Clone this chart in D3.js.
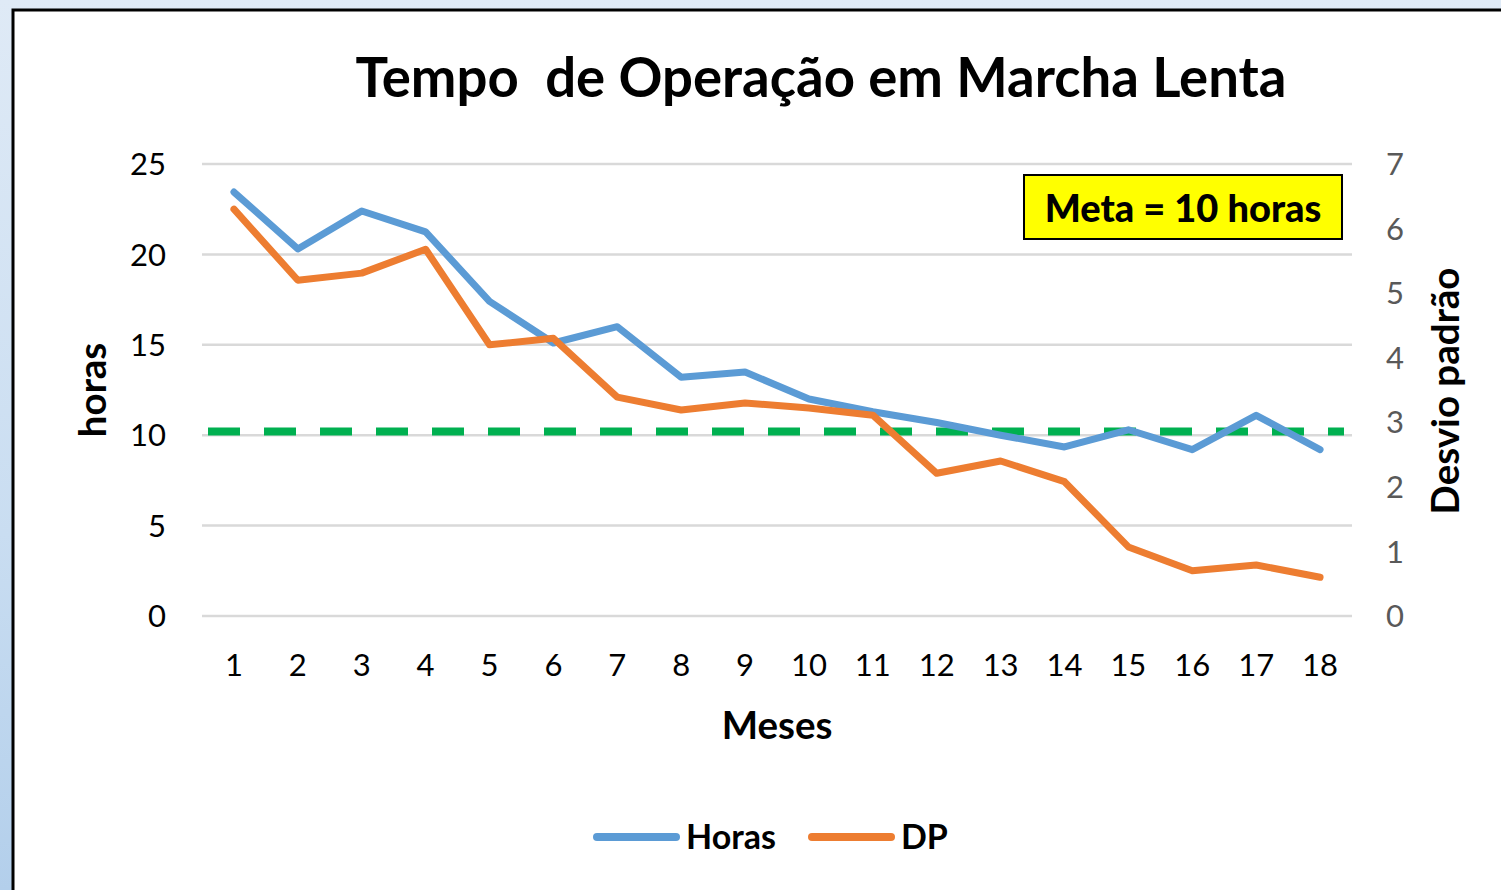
<!DOCTYPE html>
<html>
<head>
<meta charset="utf-8">
<script src="https://cdn.jsdelivr.net/npm/d3@7"></script>
<style>
  html, body { margin: 0; padding: 0; }
  body { width: 1501px; height: 890px; overflow: hidden;
         background: linear-gradient(to bottom, #dfeaf6 0%, #c9ddf1 60%, #b3cfeb 100%); }
  text { font-family: Lato, "Open Sans", sans-serif; }
</style>
</head>
<body>
<script>
// values
var meses = ["1","2","3","4","5","6","7","8","9","10","11","12","13","14","15","16","17","18"];
var horas = [23.45, 20.3, 22.4, 21.25, 17.4, 15.1, 16.0, 13.2, 13.5, 12.0, 11.3, 10.7, 10.0, 9.35, 10.3, 9.2, 11.1, 9.2];
var dp    = [6.30, 5.20, 5.31, 5.68, 4.20, 4.30, 3.39, 3.19, 3.30, 3.22, 3.11, 2.21, 2.40, 2.08, 1.07, 0.70, 0.79, 0.60];
var ticksHoras = [0, 5, 10, 15, 20, 25];
var ticksDP = [0, 1, 2, 3, 4, 5, 6, 7];
var meta = 10.2;

var W = 1501, H = 890;
var pLeft = 202, pRight = 1352, pTop = 164, pBottom = 616;

var svg = d3.select("body").append("svg")
    .attr("width", W).attr("height", H)
    .style("display", "block");

// chart area (white with black frame)
svg.append("rect")
    .attr("x", 13).attr("y", 10)
    .attr("width", W + 10).attr("height", H + 10)
    .attr("fill", "#fff")
    .attr("stroke", "#000").attr("stroke-width", 3);

var x = d3.scalePoint().domain(meses).range([pLeft, pRight]).padding(0.5);
var yL = d3.scaleLinear().domain([0, 25]).range([pBottom, pTop]);
var yR = d3.scaleLinear().domain([0, 7]).range([pBottom, pTop]);

// gridlines
svg.append("g").selectAll("line").data(ticksHoras).enter().append("line")
    .attr("x1", pLeft).attr("x2", pRight)
    .attr("y1", d => yL(d)).attr("y2", d => yL(d))
    .attr("stroke", "#d9d9d9").attr("stroke-width", 2.5);

// left axis labels
svg.append("g").selectAll("text").data(ticksHoras).enter().append("text")
    .attr("x", 166).attr("y", d => yL(d))
    .attr("dy", "0.36em").attr("text-anchor", "end")
    .style("font-size", "31px").attr("fill", "#000")
    .text(d => d);

// right axis labels
svg.append("g").selectAll("text").data(ticksDP).enter().append("text")
    .attr("x", 1386).attr("y", d => yR(d))
    .attr("dy", "0.36em").attr("text-anchor", "start")
    .style("font-size", "31px").attr("fill", "#595959")
    .text(d => d);

// x axis labels
svg.append("g").selectAll("text").data(meses).enter().append("text")
    .attr("x", d => x(d)).attr("y", 665)
    .attr("dy", "0.36em").attr("text-anchor", "middle")
    .style("font-size", "31px").attr("fill", "#000")
    .text(d => d);

// meta line
svg.append("line")
    .attr("x1", pLeft + 6).attr("x2", pRight - 8)
    .attr("y1", yL(meta)).attr("y2", yL(meta))
    .attr("stroke", "#00b050").attr("stroke-width", 8)
    .attr("stroke-dasharray", "32,24");

// series
var lineL = d3.line().x((d, i) => x(meses[i])).y(d => yL(d));
var lineR = d3.line().x((d, i) => x(meses[i])).y(d => yR(d));

svg.append("path").datum(horas)
    .attr("d", lineL).attr("fill", "none")
    .attr("stroke", "#5b9bd5").attr("stroke-width", 7)
    .attr("stroke-linejoin", "round").attr("stroke-linecap", "round");

svg.append("path").datum(dp)
    .attr("d", lineR).attr("fill", "none")
    .attr("stroke", "#ed7d31").attr("stroke-width", 7)
    .attr("stroke-linejoin", "round").attr("stroke-linecap", "round");

// title
svg.append("text")
    .attr("x", 821).attr("y", 97).attr("text-anchor", "middle")
    .style("font-size", "54.5px").style("font-weight", "bold")
    .style("white-space", "pre")
    .text("Tempo  de Operação em Marcha Lenta");

// axis titles
svg.append("text")
    .attr("transform", "translate(106,390) rotate(-90)")
    .attr("text-anchor", "middle")
    .style("font-size", "38.5px").style("font-weight", "bold")
    .text("horas");

svg.append("text")
    .attr("transform", "translate(1459,391) rotate(-90)")
    .attr("text-anchor", "middle")
    .style("font-size", "38.5px").style("font-weight", "bold")
    .text("Desvio padrão");

svg.append("text")
    .attr("x", 777).attr("y", 739).attr("text-anchor", "middle")
    .style("font-size", "38.5px").style("font-weight", "bold")
    .text("Meses");

// meta box
svg.append("rect")
    .attr("x", 1024).attr("y", 175).attr("width", 318).attr("height", 64)
    .attr("fill", "#ffff00").attr("stroke", "#000").attr("stroke-width", 2);
svg.append("text")
    .attr("x", 1183).attr("y", 222).attr("text-anchor", "middle")
    .style("font-size", "38px").style("font-weight", "900")
    .text("Meta = 10 horas");

// legend
var legend = [
  {name: "Horas", color: "#5b9bd5", x: 597},
  {name: "DP", color: "#ed7d31", x: 812}
];
var lg = svg.append("g").selectAll("g").data(legend).enter().append("g");
lg.append("line")
    .attr("x1", d => d.x).attr("x2", d => d.x + 79)
    .attr("y1", 837).attr("y2", 837)
    .attr("stroke", d => d.color).attr("stroke-width", 8)
    .attr("stroke-linecap", "round");
lg.append("text")
    .attr("x", d => d.x + 89).attr("y", 837).attr("dy", "0.36em")
    .style("font-size", "34px").style("font-weight", "bold")
    .text(d => d.name);
</script>
</body>
</html>
